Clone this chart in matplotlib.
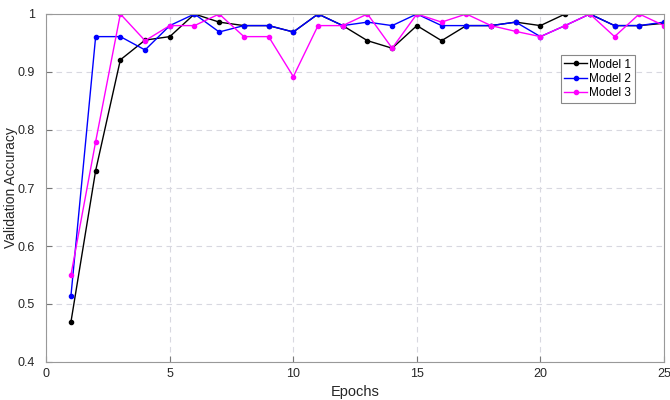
import matplotlib
matplotlib.use("Agg")
import matplotlib.pyplot as plt

epochs = list(range(1, 26))
model1 = [0.469, 0.73, 0.921, 0.955, 0.961, 1.0, 0.986, 0.98, 0.98, 0.969,
          1.0, 0.98, 0.954, 0.941, 0.98, 0.954, 0.98, 0.98, 0.986, 0.98,
          1.0, 1.0, 0.98, 0.98, 0.984]
model2 = [0.514, 0.961, 0.961, 0.938, 0.98, 1.0, 0.969, 0.98, 0.98, 0.969,
          1.0, 0.98, 0.986, 0.98, 1.0, 0.98, 0.98, 0.98, 0.986, 0.961,
          0.98, 1.0, 0.98, 0.98, 0.986]
model3 = [0.55, 0.78, 1.0, 0.954, 0.98, 0.98, 1.0, 0.961, 0.961, 0.892,
          0.98, 0.98, 1.0, 0.941, 1.0, 0.986, 1.0, 0.98, 0.97, 0.961,
          0.98, 1.0, 0.961, 1.0, 0.98]
labels = ["Model 1", "Model 2", "Model 3"]
colors = ["black", "#0000ff", "#ff00ff"]

plt.rcParams["font.family"] = ["Liberation Sans", "DejaVu Sans"]

fig = plt.figure(figsize=(6.7, 4.0), dpi=100)
ax = fig.add_axes([0.069, 0.095, 0.922, 0.87])

for ys, lab, c in zip([model1, model2, model3], labels, colors):
    ax.plot(epochs, ys, color=c, marker="o", markersize=3, linewidth=1, label=lab)

ax.set_xlim(0, 25)
ax.set_ylim(0.4, 1.0)
ax.set_xticks([0, 5, 10, 15, 20, 25])
ax.set_yticks([0.4, 0.5, 0.6, 0.7, 0.8, 0.9, 1.0])
ax.set_yticklabels(["0.4", "0.5", "0.6", "0.7", "0.8", "0.9", "1"])
ax.grid(True, linestyle=(0, (5, 4)), color="#d8d8e0", linewidth=0.8)
ax.tick_params(direction="in", labelsize=9, colors="#777777",
               labelcolor="#262626", length=4)
ax.tick_params(axis="y", pad=8)
ax.tick_params(axis="x", pad=4)
for s in ax.spines.values():
    s.set_color("#999999")

ax.set_xlabel("Epochs", fontsize=10.5, color="#262626", labelpad=4)
ax.set_ylabel("Validation Accuracy", fontsize=10, color="#262626")
ax.yaxis.set_label_coords(-0.046, 0.5)

leg = ax.legend(loc="upper left", bbox_to_anchor=(0.833, 0.882), borderaxespad=0,
                fontsize=8.5, fancybox=False, framealpha=1, handlelength=1.9,
                borderpad=0.3, labelspacing=0.2, handletextpad=0.2)
leg.get_frame().set_edgecolor("#888888")
leg.get_frame().set_linewidth(0.8)

fig.savefig("out.png", dpi=100)
